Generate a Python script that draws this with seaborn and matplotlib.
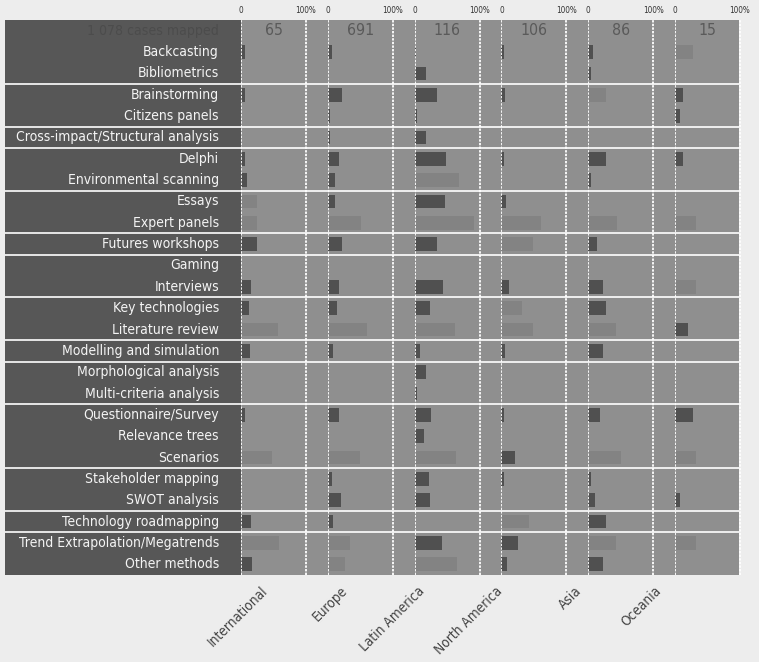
import matplotlib
matplotlib.use("Agg")
import matplotlib.pyplot as plt
import pandas as pd
import seaborn as sns
from matplotlib import font_manager

# ---------------- data ----------------
methods = [
    "Backcasting", "Bibliometrics", "Brainstorming", "Citizens panels",
    "Cross-impact/Structural analysis", "Delphi", "Environmental scanning",
    "Essays", "Expert panels", "Futures workshops", "Gaming", "Interviews",
    "Key technologies", "Literature review", "Modelling and simulation",
    "Morphological analysis", "Multi-criteria analysis", "Questionnaire/Survey",
    "Relevance trees", "Scenarios", "Stakeholder mapping", "SWOT analysis",
    "Technology roadmapping", "Trend Extrapolation/Megatrends", "Other methods",
]
regions = ["International", "Europe", "Latin America", "North America", "Asia", "Oceania"]
cases = [65, 691, 116, 106, 86, 15]
total_label = "1 078 cases mapped"

intl_pct = [6, 0, 6, 0, 0, 6, 9, 25, 25, 25, 0, 15, 12, 57, 14, 0, 0, 6, 0, 48, 0, 0, 15, 58, 17]
europe_pct = [6, 0, 22, 4, 4, 17, 11, 11, 51, 22, 0, 17, 14, 60, 8, 0, 0, 17, 0, 49, 6, 20, 8, 34, 26]
latam_pct = [2.5, 17, 35, 4, 18, 49, 69, 46, 91, 34, 0, 43, 23, 62, 8, 18, 3, 25, 15, 63, 22, 23, 0, 42, 65]
namerica_pct = [4.5, 0, 6, 0, 0, 4.5, 0, 7.5, 61, 49, 0, 12, 31, 49, 6, 0, 0, 4.5, 0, 21, 4.5, 0, 43, 26, 9]
asia_pct = [7, 4, 28, 0, 0, 28, 4.5, 0, 45, 14, 0, 22, 28, 42, 23, 0, 0, 18, 0, 51, 4.5, 11, 28, 42, 22]
oceania_pct = [27, 0, 13, 7, 0, 13, 0, 0, 33, 0, 0, 33, 0, 20, 0, 0, 0, 27, 0, 33, 0, 7, 0, 33, 0]

# methods drawn in the lighter shade, per region
intl_light = ["Essays", "Expert panels", "Literature review", "Scenarios", "Trend Extrapolation/Megatrends"]
europe_light = ["Expert panels", "Literature review", "Scenarios", "Trend Extrapolation/Megatrends", "Other methods"]
latam_light = ["Environmental scanning", "Expert panels", "Literature review", "Scenarios", "Other methods"]
namerica_light = ["Expert panels", "Futures workshops", "Key technologies", "Literature review", "Technology roadmapping"]
asia_light = ["Brainstorming", "Expert panels", "Literature review", "Scenarios", "Trend Extrapolation/Megatrends"]
oceania_light = ["Backcasting", "Expert panels", "Interviews", "Scenarios", "Trend Extrapolation/Megatrends"]

# rows after which a white separator is drawn
separator_after = ["Bibliometrics", "Citizens panels", "Cross-impact/Structural analysis",
                   "Environmental scanning", "Expert panels", "Futures workshops", "Interviews",
                   "Literature review", "Modelling and simulation", "Multi-criteria analysis",
                   "Scenarios", "SWOT analysis", "Technology roadmapping"]

region_pct = [intl_pct, europe_pct, latam_pct, namerica_pct, asia_pct, oceania_pct]
region_light = [intl_light, europe_light, latam_light, namerica_light, asia_light, oceania_light]

# ---------------- style ----------------
sns.set_theme(style="white")
fonts = font_manager.fontManager.ttflist
names = {f.name for f in fonts}

def is_condensed(f):
    s = f.stretch
    if isinstance(s, str):
        return s in ("ultra-condensed", "extra-condensed", "condensed", "semi-condensed")
    try:
        return int(s) < 500
    except Exception:
        return False

family, stretch = None, "normal"
if "Liberation Sans Narrow" in names:
    family = "Liberation Sans Narrow"
else:
    for pref in ["DejaVu Sans", "Noto Sans", "Open Sans", "Roboto", "Lato", "Inter"]:
        cands = [f for f in fonts if f.name == pref and is_condensed(f) and f.style == "normal"]
        if cands:
            family, stretch = pref, cands[0].stretch
            break
    if family is None:
        cn = [f.name for f in fonts if ("Condensed" in f.name or "Narrow" in f.name)]
        family = cn[0] if cn else ("Roboto" if "Roboto" in names else "DejaVu Sans")
plt.rcParams["font.family"] = [family, "DejaVu Sans"]
plt.rcParams["font.stretch"] = stretch

FIG_BG = "#ededed"
PANEL_DARK = "#575757"
PANEL_GRAY = "#8f8f8f"
BAR_DARK = "#505050"
BAR_LIGHT = "#838383"

W, H = 759, 662
fig = plt.figure(figsize=(W / 100, H / 100), dpi=100, facecolor=FIG_BG)
renderer = fig.canvas.get_renderer()

def fit_size(text, target_px, base=10.0):
    t = fig.text(0, 0, text, fontsize=base)
    w = t.get_window_extent(renderer).width
    t.remove()
    return base * target_px / w

top_px, bot_px = 20, 575
def rect(x0, x1):
    return [x0 / W, (H - bot_px) / H, (x1 - x0) / W, (bot_px - top_px) / H]

ylims = (len(methods) - 0.5, -1.5)
sep_y = [methods.index(m) + 0.5 for m in separator_after]

def clean(ax):
    for s in ax.spines.values():
        s.set_visible(False)
    ax.set_xticks([])
    ax.set_yticks([])
    ax.set_xlabel("")
    ax.set_ylabel("")

label_fs = min(fit_size("Cross-impact/Structural analysis", 203), 11.5)
header_fs = min(fit_size(total_label, 132), 13)
count_fs = min(fit_size("691", 27), 13.5)
tick_fs = min(fit_size("100%", 21), 7)
region_fs = min(fit_size("International", 78), 11.5)

# gray background
ax_bg = fig.add_axes(rect(241, 739))
ax_bg.set_facecolor(PANEL_GRAY)
ax_bg.set_ylim(*ylims)
clean(ax_bg)
for y in sep_y:
    ax_bg.axhline(y, color="white", lw=1.2, zorder=1)

# label panel
ax_lab = fig.add_axes(rect(5, 241))
ax_lab.set_facecolor(PANEL_DARK)
ax_lab.set_xlim(0, 236)
ax_lab.set_ylim(*ylims)
clean(ax_lab)
for y in sep_y:
    ax_lab.axhline(y, color="white", lw=1.2)
for i, m in enumerate(methods):
    ax_lab.text(214, i, m, ha="right", va="center", color="#f4f4f4", fontsize=label_fs)
ax_lab.text(214, -1, total_label, ha="right", va="center", color="#4c4c4c", fontsize=header_fs)

# region panels
pitch = 86.8
scale = 65.0  # px per 100 %
label_end_px = [270, 350, 427, 505, 584, 664]
for i, (reg, pct, light) in enumerate(zip(regions, region_pct, region_light)):
    x0 = 241 + pitch * i
    ax = fig.add_axes(rect(x0, x0 + pitch))
    ax.patch.set_alpha(0)
    df = pd.DataFrame({
        "method": methods,
        "pct": pct,
        "shade": ["light" if m in light else "dark" for m in methods],
    })
    sns.barplot(data=df, y="method", x="pct", hue="shade", order=methods,
                hue_order=["dark", "light"], palette=[BAR_DARK, BAR_LIGHT],
                orient="h", dodge=False, width=0.64, saturation=1,
                errorbar=None, legend=False, ax=ax, linewidth=0)
    clean(ax)
    ax.set_xlim(0, 100 * pitch / scale)
    ax.set_ylim(*ylims)
    for xv in (0, 100):
        ax.axvline(xv, color="white", lw=1.3, linestyle=(0, (1.3, 0.7)), zorder=5)
    ax.text(50, -1, str(cases[i]), ha="center", va="center", color="#5a5a5a", fontsize=count_fs)
    ax.xaxis.tick_top()
    ax.set_xticks([0, 100])
    ax.set_xticklabels(["0", "100%"])
    ax.tick_params(axis="x", length=0, pad=3.5, labelsize=tick_fs, labelcolor="#333333")
    fig.text(label_end_px[i] / W, 1 - 584 / H, reg, rotation=45, ha="right", va="top",
             color="#444444", fontsize=region_fs)

fig.savefig("out.png", dpi=100, facecolor=FIG_BG)
